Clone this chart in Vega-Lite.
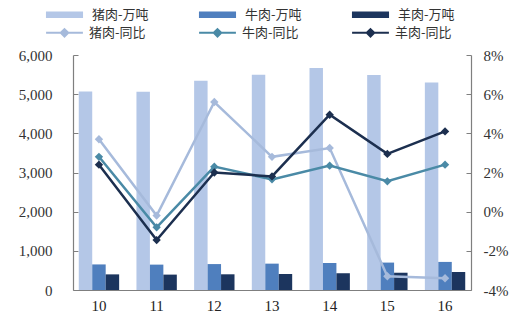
{
  "$schema": "https://vega.github.io/schema/vega-lite/v6.json",
  "width": 398,
  "height": 235,
  "autosize": {"type": "none"},
  "padding": {"left": 73, "top": 55, "right": 49, "bottom": 27},
  "background": "white",
  "config": {
    "view": {"stroke": null},
    "font": "Liberation Serif",
    "axis": {"domainColor": "#7f7f7f", "tickColor": "#7f7f7f", "labelColor": "#333333", "labelFontSize": 15, "labelFont": "Liberation Serif", "grid": false, "domainWidth": 1.2}
  },
  "data": {"values": [
    {"year": "10", "bar": "猪肉-万吨", "line": "猪肉-同比", "prod": 5071, "yoy": 3.7},
    {"year": "11", "bar": "猪肉-万吨", "line": "猪肉-同比", "prod": 5060, "yoy": -0.2},
    {"year": "12", "bar": "猪肉-万吨", "line": "猪肉-同比", "prod": 5343, "yoy": 5.6},
    {"year": "13", "bar": "猪肉-万吨", "line": "猪肉-同比", "prod": 5493, "yoy": 2.8},
    {"year": "14", "bar": "猪肉-万吨", "line": "猪肉-同比", "prod": 5671, "yoy": 3.25},
    {"year": "15", "bar": "猪肉-万吨", "line": "猪肉-同比", "prod": 5487, "yoy": -3.3},
    {"year": "16", "bar": "猪肉-万吨", "line": "猪肉-同比", "prod": 5299, "yoy": -3.4},
    {"year": "10", "bar": "牛肉-万吨", "line": "牛肉-同比", "prod": 653, "yoy": 2.8},
    {"year": "11", "bar": "牛肉-万吨", "line": "牛肉-同比", "prod": 648, "yoy": -0.8},
    {"year": "12", "bar": "牛肉-万吨", "line": "牛肉-同比", "prod": 662, "yoy": 2.3},
    {"year": "13", "bar": "牛肉-万吨", "line": "牛肉-同比", "prod": 673, "yoy": 1.65},
    {"year": "14", "bar": "牛肉-万吨", "line": "牛肉-同比", "prod": 689, "yoy": 2.35},
    {"year": "15", "bar": "牛肉-万吨", "line": "牛肉-同比", "prod": 700, "yoy": 1.55},
    {"year": "16", "bar": "牛肉-万吨", "line": "牛肉-同比", "prod": 717, "yoy": 2.4},
    {"year": "10", "bar": "羊肉-万吨", "line": "羊肉-同比", "prod": 399, "yoy": 2.4},
    {"year": "11", "bar": "羊肉-万吨", "line": "羊肉-同比", "prod": 393, "yoy": -1.45},
    {"year": "12", "bar": "羊肉-万吨", "line": "羊肉-同比", "prod": 401, "yoy": 2.0},
    {"year": "13", "bar": "羊肉-万吨", "line": "羊肉-同比", "prod": 408, "yoy": 1.8},
    {"year": "14", "bar": "羊肉-万吨", "line": "羊肉-同比", "prod": 428, "yoy": 4.95},
    {"year": "15", "bar": "羊肉-万吨", "line": "羊肉-同比", "prod": 441, "yoy": 2.95},
    {"year": "16", "bar": "羊肉-万吨", "line": "羊肉-同比", "prod": 459, "yoy": 4.1}
  ]},
  "encoding": {
    "x": {
      "field": "year", "type": "nominal",
      "scale": {"paddingInner": 0.3, "paddingOuter": 0.1},
      "axis": {"title": null, "labelAngle": 0, "ticks": false, "labelPadding": 8, "labelColor": "#222222"}
    }
  },
  "layer": [
    {
      "mark": {"type": "bar"},
      "encoding": {
        "xOffset": {"field": "bar", "type": "nominal", "sort": ["猪肉-万吨", "牛肉-万吨", "羊肉-万吨"]},
        "y": {
          "field": "prod", "type": "quantitative",
          "scale": {"domain": [0, 6000], "nice": false},
          "axis": {"title": null, "orient": "left", "format": ",d", "values": [0, 1000, 2000, 3000, 4000, 5000, 6000], "tickSize": -5, "labelPadding": 26}
        },
        "color": {
          "field": "bar", "type": "nominal",
          "scale": {"domain": ["猪肉-万吨", "牛肉-万吨", "羊肉-万吨"], "range": ["#b4c7e7", "#4f7fbe", "#1c355e"]},
          "legend": {
            "title": null, "orient": "none", "legendX": -15, "legendY": -47, "direction": "horizontal", "columns": 3, "gridAlign": "all",
            "symbolType": "M-5,-0.9H5V0.9H-5Z", "symbolSize": 55, "symbolStrokeWidth": 0,
            "labelOffset": 21, "columnPadding": 49, "labelFont": "Noto Sans CJK SC", "labelFontSize": 13, "labelColor": "#333333"
          }
        }
      }
    },
    {
      "mark": {"type": "line", "strokeWidth": 2.5, "point": {"shape": "diamond", "filled": true, "size": 70}},
      "encoding": {
        "y": {
          "field": "yoy", "type": "quantitative",
          "scale": {"domain": [-4, 8], "nice": false},
          "axis": {"title": null, "orient": "right", "values": [-4, -2, 0, 2, 4, 6, 8], "labelExpr": "datum.value + '%'", "tickSize": -5, "labelPadding": 17}
        },
        "color": {
          "field": "line", "type": "nominal",
          "scale": {"domain": ["猪肉-同比", "牛肉-同比", "羊肉-同比"], "range": ["#a6badb", "#4a8aa6", "#1c2f4f"]},
          "legend": {
            "title": null, "orient": "none", "legendX": -15, "legendY": -29, "direction": "horizontal", "columns": 3, "gridAlign": "all",
            "symbolType": "M-4.4,0H4.4M0,-0.9L0.9,0L0,0.9L-0.9,0Z", "symbolSize": 70, "symbolStrokeWidth": 2,
            "labelOffset": 18, "columnPadding": 49, "labelFont": "Noto Sans CJK SC", "labelFontSize": 13, "labelColor": "#333333"
          }
        }
      }
    }
  ],
  "resolve": {"scale": {"y": "independent", "color": "independent"}}
}
